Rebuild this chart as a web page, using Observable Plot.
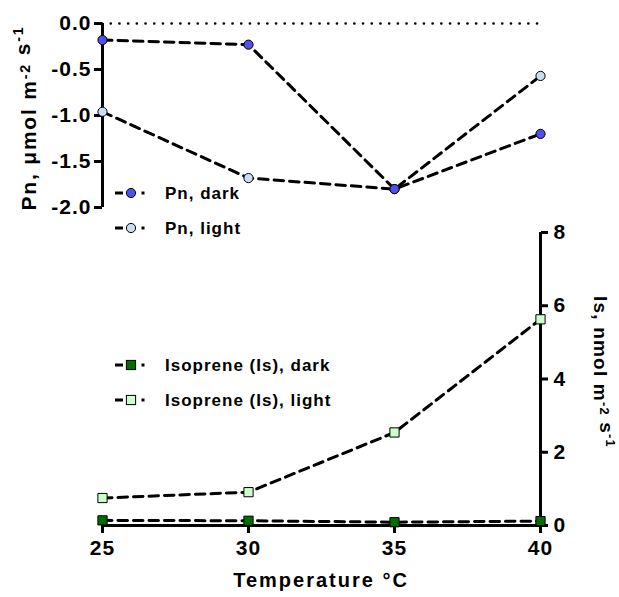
<!DOCTYPE html>
<html>
<head>
<meta charset="utf-8">
<script src="https://cdn.jsdelivr.net/npm/d3@7"></script>
<script src="https://cdn.jsdelivr.net/npm/@observablehq/plot@0.6"></script>
<style>
  body { margin: 0; background: white; }
  #chart { position: relative; width: 619px; height: 597px; background: white; }
  #chart svg { position: absolute; top: 0; left: 0; }
</style>
</head>
<body>
<div id="chart"></div>
<script>
// ---- data ----
const temps = [25, 30, 35, 40];
const pnDark = [-0.18, -0.23, -1.80, -1.20];
const pnLight = [-0.96, -1.68, -1.80, -0.57];
const isDark = [0.14, 0.13, 0.09, 0.12];
const isLight = [0.75, 0.91, 2.54, 5.63];
const pnTicks = [0, -0.5, -1.0, -1.5, -2.0];
const isTicks = [0, 2, 4, 6, 8];

const pnDarkData = temps.map((t, i) => ({t, v: pnDark[i]}));
const pnLightData = temps.map((t, i) => ({t, v: pnLight[i]}));
const isDarkData = temps.map((t, i) => ({t, v: isDark[i]}));
const isLightData = temps.map((t, i) => ({t, v: isLight[i]}));

const FONT = "'Liberation Sans', Arial, Helvetica, sans-serif";
const C = {pnDark: "#5050f0", pnLight: "#c8def2", isDark: "#006e00", isLight: "#ccffcc"};
const dash = "9.5,6";

const W = 619, H = 597, ML = 102, MR = 79;
const tickText = {fontSize: 21, fontWeight: "bold", fontFamily: FONT, fill: "black"};
const svgStyle = {fontFamily: FONT, fontWeight: "bold", fontSize: "21px", letterSpacing: "1px", color: "black", overflow: "visible"};

const topPlot = Plot.plot({
  width: W, height: H,
  marginTop: 23, marginBottom: H - 207, marginLeft: ML, marginRight: MR,
  x: {domain: [25, 40], axis: null},
  y: {domain: [-2, 0]},
  style: {...svgStyle, background: "white"},
  marks: [
    Plot.ruleY([0], {stroke: "black", strokeWidth: 2.6, strokeLinecap: "round", strokeDasharray: "0.1,8.6"}),
    Plot.ruleX([25], {stroke: "black", strokeWidth: 3}),
    Plot.axisY({ticks: pnTicks, tickSize: 8, tickPadding: 3, strokeWidth: 3, label: null, tickFormat: d => d.toFixed(1), ...tickText}),
    Plot.line(pnLightData, {x: "t", y: "v", stroke: "black", strokeWidth: 3, strokeDasharray: dash}),
    Plot.line(pnDarkData, {x: "t", y: "v", stroke: "black", strokeWidth: 3, strokeDasharray: dash}),
    Plot.dot(pnLightData, {x: "t", y: "v", r: 4.6, fill: C.pnLight, stroke: "black", strokeWidth: 1}),
    Plot.dot(pnDarkData, {x: "t", y: "v", r: 4.6, fill: C.pnDark, stroke: "black", strokeWidth: 1})
  ]
});

const bottomPlot = Plot.plot({
  width: W, height: H,
  marginTop: 232, marginBottom: H - 525, marginLeft: ML, marginRight: MR,
  x: {domain: [25, 40]},
  y: {domain: [0, 8]},
  style: {...svgStyle, background: "transparent"},
  marks: [
    Plot.ruleY([0], {stroke: "black", strokeWidth: 3}),
    Plot.ruleX([40], {stroke: "black", strokeWidth: 3}),
    Plot.axisX({ticks: temps, tickSize: 8, tickPadding: 7, strokeWidth: 3, label: null, tickFormat: d => String(d), ...tickText}),
    Plot.axisY({anchor: "right", ticks: isTicks, tickSize: 7, tickPadding: 6, strokeWidth: 3, label: null, tickFormat: d => String(d), ...tickText}),
    Plot.line(isLightData, {x: "t", y: "v", stroke: "black", strokeWidth: 3, strokeDasharray: dash}),
    Plot.line(isDarkData, {x: "t", y: "v", stroke: "black", strokeWidth: 3, strokeDasharray: dash}),
    Plot.dot(isLightData, {x: "t", y: "v", symbol: "square", r: 5.2, fill: C.isLight, stroke: "black", strokeWidth: 1}),
    Plot.dot(isDarkData, {x: "t", y: "v", symbol: "square", r: 5.2, fill: C.isDark, stroke: "black", strokeWidth: 1})
  ]
});

const chart = document.getElementById("chart");
chart.appendChild(topPlot);
chart.appendChild(bottomPlot);

const svg = d3.select(bottomPlot);

// axis titles with superscripts
function unitTitle(sel, parts) {
  parts.forEach(p => {
    if (p.sup) {
      sel.append("tspan").attr("dy", "-0.45em").attr("font-size", "0.68em").text(p.text);
      sel.append("tspan").attr("dy", "0.306em").text("");
    } else {
      sel.append("tspan").text(p.text);
    }
  });
}

const leftTitle = svg.append("text")
  .attr("transform", "translate(36,118) rotate(-90)")
  .attr("text-anchor", "middle")
  .attr("font-family", FONT).attr("font-weight", "bold").attr("font-size", 21)
  .attr("letter-spacing", 1.8).attr("fill", "black");
unitTitle(leftTitle, [{text: "Pn, μmol m"}, {text: "-2", sup: true}, {text: " s"}, {text: "-1", sup: true}]);

const rightTitle = svg.append("text")
  .attr("transform", "translate(594,372) rotate(90)")
  .attr("text-anchor", "middle")
  .attr("font-family", FONT).attr("font-weight", "bold").attr("font-size", 19)
  .attr("letter-spacing", 1.2).attr("fill", "black");
unitTitle(rightTitle, [{text: "Is, nmol m"}, {text: "-2", sup: true}, {text: " s"}, {text: "-1", sup: true}]);

svg.append("text")
  .attr("x", (ML + (W - MR)) / 2).attr("y", 587)
  .attr("text-anchor", "middle")
  .attr("font-family", FONT).attr("font-weight", "bold").attr("font-size", 20)
  .attr("letter-spacing", 2).attr("fill", "black")
  .text("Temperature °C");

// legends
const legendItems = [
  {y: 193, kind: "circle", fill: C.pnDark, label: "Pn, dark"},
  {y: 228, kind: "circle", fill: C.pnLight, label: "Pn, light"},
  {y: 365, kind: "square", fill: C.isDark, label: "Isoprene (Is), dark"},
  {y: 400, kind: "square", fill: C.isLight, label: "Isoprene (Is), light"}
];
legendItems.forEach(it => {
  const g = svg.append("g");
  g.append("line").attr("x1", 115).attr("x2", 123).attr("y1", it.y).attr("y2", it.y)
    .attr("stroke", "black").attr("stroke-width", 3);
  g.append("line").attr("x1", 141.5).attr("x2", 144.5).attr("y1", it.y).attr("y2", it.y)
    .attr("stroke", "black").attr("stroke-width", 3);
  if (it.kind === "circle") {
    g.append("circle").attr("cx", 131).attr("cy", it.y).attr("r", 4.6)
      .attr("fill", it.fill).attr("stroke", "black").attr("stroke-width", 1);
  } else {
    g.append("rect").attr("x", 131 - 4.6).attr("y", it.y - 4.6).attr("width", 9.2).attr("height", 9.2)
      .attr("fill", it.fill).attr("stroke", "black").attr("stroke-width", 1);
  }
  g.append("text").attr("x", 165).attr("y", it.y + 6)
    .attr("text-anchor", "start")
    .attr("font-family", FONT).attr("font-weight", "bold").attr("font-size", 17)
    .attr("letter-spacing", 1).attr("fill", "black")
    .text(it.label);
});
</script>
</body>
</html>
